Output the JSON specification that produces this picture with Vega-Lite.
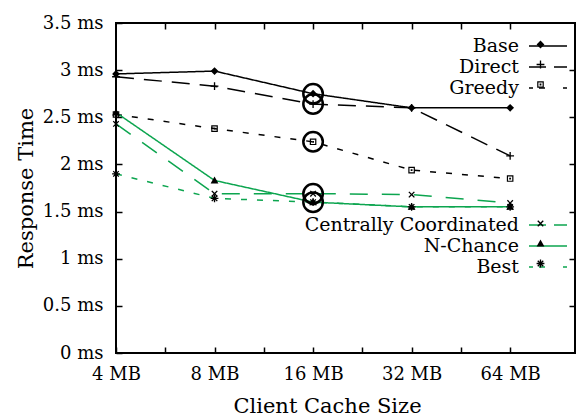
{
  "$schema": "https://vega.github.io/schema/vega-lite/v6.json",
  "width": 459,
  "height": 330,
  "autosize": "none",
  "padding": {"left": 116, "top": 23, "right": 3, "bottom": 65},
  "background": "white",
  "config": {
    "view": {"stroke": "black", "strokeWidth": 2},
    "font": "DejaVu Serif",
    "axis": {"domain": false, "grid": false, "ticks": true, "tickColor": "black", "tickWidth": 1.5, "tickSize": -6, "labelColor": "black", "labelFont": "DejaVu Serif", "labelFontSize": 18, "titleFont": "DejaVu Serif", "titleFontSize": 21, "titleFontWeight": "normal", "titleColor": "black", "labelOverlap": false, "labelFlush": false},
    "legend": {"orient": "none", "direction": "vertical", "padding": 0, "rowPadding": 0, "labelFont": "DejaVu Serif", "labelFontSize": 19, "labelColor": "black", "labelLimit": 400}
  },
  "data": {"values": [
    {"series": "Base", "size": 4, "time": 2.96},
    {"series": "Base", "size": 8, "time": 2.99},
    {"series": "Base", "size": 16, "time": 2.75},
    {"series": "Base", "size": 32, "time": 2.6},
    {"series": "Base", "size": 64, "time": 2.6},
    {"series": "Direct", "size": 4, "time": 2.93},
    {"series": "Direct", "size": 8, "time": 2.83},
    {"series": "Direct", "size": 16, "time": 2.64},
    {"series": "Direct", "size": 32, "time": 2.6},
    {"series": "Direct", "size": 64, "time": 2.09},
    {"series": "Greedy", "size": 4, "time": 2.53},
    {"series": "Greedy", "size": 8, "time": 2.38},
    {"series": "Greedy", "size": 16, "time": 2.24},
    {"series": "Greedy", "size": 32, "time": 1.94},
    {"series": "Greedy", "size": 64, "time": 1.85},
    {"series": "Centrally Coordinated", "size": 4, "time": 2.43},
    {"series": "Centrally Coordinated", "size": 8, "time": 1.69},
    {"series": "Centrally Coordinated", "size": 16, "time": 1.69},
    {"series": "Centrally Coordinated", "size": 32, "time": 1.68},
    {"series": "Centrally Coordinated", "size": 64, "time": 1.59},
    {"series": "N-Chance", "size": 4, "time": 2.55},
    {"series": "N-Chance", "size": 8, "time": 1.83},
    {"series": "N-Chance", "size": 16, "time": 1.6},
    {"series": "N-Chance", "size": 32, "time": 1.55},
    {"series": "N-Chance", "size": 64, "time": 1.55},
    {"series": "Best", "size": 4, "time": 1.9},
    {"series": "Best", "size": 8, "time": 1.64},
    {"series": "Best", "size": 16, "time": 1.6},
    {"series": "Best", "size": 32, "time": 1.55},
    {"series": "Best", "size": 64, "time": 1.55}
  ]},
  "resolve": {
    "scale": {"color": "independent", "strokeDash": "independent", "shape": "independent"},
    "axis": {"x": "independent", "y": "independent"}
  },
  "layer": [
    {
      "transform": [{"filter": "indexof(['Base','Direct','Greedy'], datum.series) >= 0"}],
      "mark": {"type": "line", "strokeWidth": 1.5},
      "encoding": {
        "x": {"field": "size", "type": "quantitative",
          "scale": {"type": "log", "base": 2, "domain": [4, 101], "nice": false, "zero": false},
          "axis": {"orient": "bottom", "values": [4, 5.657, 8, 11.314, 16, 22.627, 32, 45.255, 64],
            "labelExpr": "datum.value === 4 ? '4 MB' : datum.value === 8 ? '8 MB' : datum.value === 16 ? '16 MB' : datum.value === 32 ? '32 MB' : datum.value === 64 ? '64 MB' : ''",
            "labelPadding": 18, "title": "Client Cache Size", "titleX": 211, "titleY": 59, "titleBaseline": "alphabetic", "titleAlign": "center"}},
        "y": {"field": "time", "type": "quantitative",
          "scale": {"domain": [0, 3.5], "nice": false},
          "axis": {"orient": "left", "values": [0, 0.5, 1, 1.5, 2, 2.5, 3, 3.5], "labelExpr": "datum.value + ' ms'",
            "labelPadding": 19, "title": "Response Time", "titleX": -84, "titleY": 165, "titleAngle": -90, "titleBaseline": "alphabetic", "titleAlign": "center"}},
        "color": {"field": "series", "type": "nominal",
          "scale": {"domain": ["Base", "Direct", "Greedy"], "range": ["black", "black", "black"]},
          "legend": {"title": null, "legendX": 131, "legendY": 12, "symbolSize": 400, "symbolStrokeWidth": 1.5, "labelAlign": "right", "labelOffset": 250,
            "encode": {"symbols": {"update": {
              "shape": {"signal": "datum.value === 'Base' ? 'M27.1,0H30.9' : datum.value === 'Direct' ? 'M27.1,0H28.8M29.6,0H30.9' : 'M27.1,0H27.5M28.1,0H29.2M30.5,0H30.9'"},
              "strokeDash": {"value": [1, 0]},
              "fill": {"value": "transparent"},
              "stroke": {"value": "black"}}}}}},
        "strokeDash": {"field": "series", "type": "nominal",
          "scale": {"domain": ["Base", "Direct", "Greedy"], "range": [[1, 0], [18, 10], [6, 10]]}, "legend": null}
      }
    },
    {
      "transform": [{"filter": "indexof(['Centrally Coordinated','N-Chance','Best'], datum.series) >= 0"}],
      "mark": {"type": "line", "strokeWidth": 1.5},
      "encoding": {
        "x": {"field": "size", "type": "quantitative", "axis": null},
        "y": {"field": "time", "type": "quantitative", "axis": null},
        "color": {"field": "series", "type": "nominal",
          "scale": {"domain": ["Centrally Coordinated", "N-Chance", "Best"], "range": ["#0ca54f", "#0ca54f", "#0ca54f"]},
          "legend": {"title": null, "legendX": 131, "legendY": 191, "symbolSize": 400, "symbolStrokeWidth": 1.5, "labelAlign": "right", "labelOffset": 250,
            "encode": {"symbols": {"update": {
              "shape": {"signal": "datum.value === 'N-Chance' ? 'M27.1,0H30.9' : datum.value === 'Centrally Coordinated' ? 'M27.1,0H28.8M29.6,0H30.9' : 'M27.1,0H27.5M28.1,0H29.2M30.5,0H30.9'"},
              "strokeDash": {"value": [1, 0]},
              "fill": {"value": "transparent"},
              "stroke": {"value": "#0ca54f"}}}}}},
        "strokeDash": {"field": "series", "type": "nominal",
          "scale": {"domain": ["Centrally Coordinated", "N-Chance", "Best"], "range": [[18, 14], [1, 0], [6, 10]]}, "legend": null}
      }
    },
    {
      "transform": [{"filter": "indexof(['Base','Direct','Greedy'], datum.series) >= 0"}],
      "mark": {"type": "point", "filled": true, "color": "black", "fill": "black", "strokeWidth": 0, "size": 36, "opacity": 1},
      "encoding": {
        "x": {"field": "size", "type": "quantitative", "axis": null},
        "y": {"field": "time", "type": "quantitative", "axis": null},
        "shape": {"field": "series", "type": "nominal",
          "scale": {"domain": ["Base", "Direct", "Greedy"], "range": [
            "M0,-1.3L1.3,0L0,1.3L-1.3,0Z",
            "M-0.22,-1.3H0.22V-0.22H1.3V0.22H0.22V1.3H-0.22V0.22H-1.3V-0.22H-0.22Z",
            "M-1.1,-1.1H1.1V1.1H-1.1ZM-0.7,-0.7V0.7H0.7V-0.7ZM-0.3,-0.3H0.3V0.3H-0.3Z"]},
          "legend": {"title": null, "legendX": 415, "legendY": 12, "symbolSize": 36, "symbolStrokeWidth": 0, "symbolFillColor": "black", "labelOpacity": 0, "labelAlign": "left", "labelOffset": 0, "labelLimit": 10}}
      }
    },
    {
      "transform": [{"filter": "indexof(['Centrally Coordinated','N-Chance','Best'], datum.series) >= 0"}],
      "mark": {"type": "point", "filled": true, "color": "black", "fill": "black", "strokeWidth": 0, "size": 36, "opacity": 1},
      "encoding": {
        "x": {"field": "size", "type": "quantitative", "axis": null},
        "y": {"field": "time", "type": "quantitative", "axis": null},
        "shape": {"field": "series", "type": "nominal",
          "scale": {"domain": ["Centrally Coordinated", "N-Chance", "Best"], "range": [
            "M0.764,-1.075L1.075,-0.764L0.311,0L1.075,0.764L0.764,1.075L0,0.311L-0.764,1.075L-1.075,0.764L-0.311,0L-1.075,-0.764L-0.764,-1.075L0,-0.311Z",
            "M0,-1.3L1.3,1H-1.3Z",
            "M-0.22,-1.3H0.22V-0.22H1.3V0.22H0.22V1.3H-0.22V0.22H-1.3V-0.22H-0.22ZM0.764,-1.075L1.075,-0.764L0.311,0L1.075,0.764L0.764,1.075L0,0.311L-0.764,1.075L-1.075,0.764L-0.311,0L-1.075,-0.764L-0.764,-1.075L0,-0.311Z"]},
          "legend": {"title": null, "legendX": 415, "legendY": 191, "symbolSize": 36, "symbolStrokeWidth": 0, "symbolFillColor": "black", "labelOpacity": 0, "labelAlign": "left", "labelOffset": 0, "labelLimit": 10}}
      }
    },
    {
      "transform": [{"filter": "datum.size === 16 && datum.series !== 'Best'"}],
      "mark": {"type": "point", "shape": "circle", "filled": false, "stroke": "black", "strokeWidth": 2.5, "size": 380, "opacity": 1},
      "encoding": {
        "x": {"field": "size", "type": "quantitative",
          "axis": {"orient": "top", "values": [5.657, 8, 11.314, 16, 22.627, 32, 45.255, 64], "labels": false, "title": null}},
        "y": {"field": "time", "type": "quantitative",
          "axis": {"orient": "right", "values": [0.5, 1, 1.5, 2, 2.5, 3], "labels": false, "title": null}}
      }
    }
  ]
}
